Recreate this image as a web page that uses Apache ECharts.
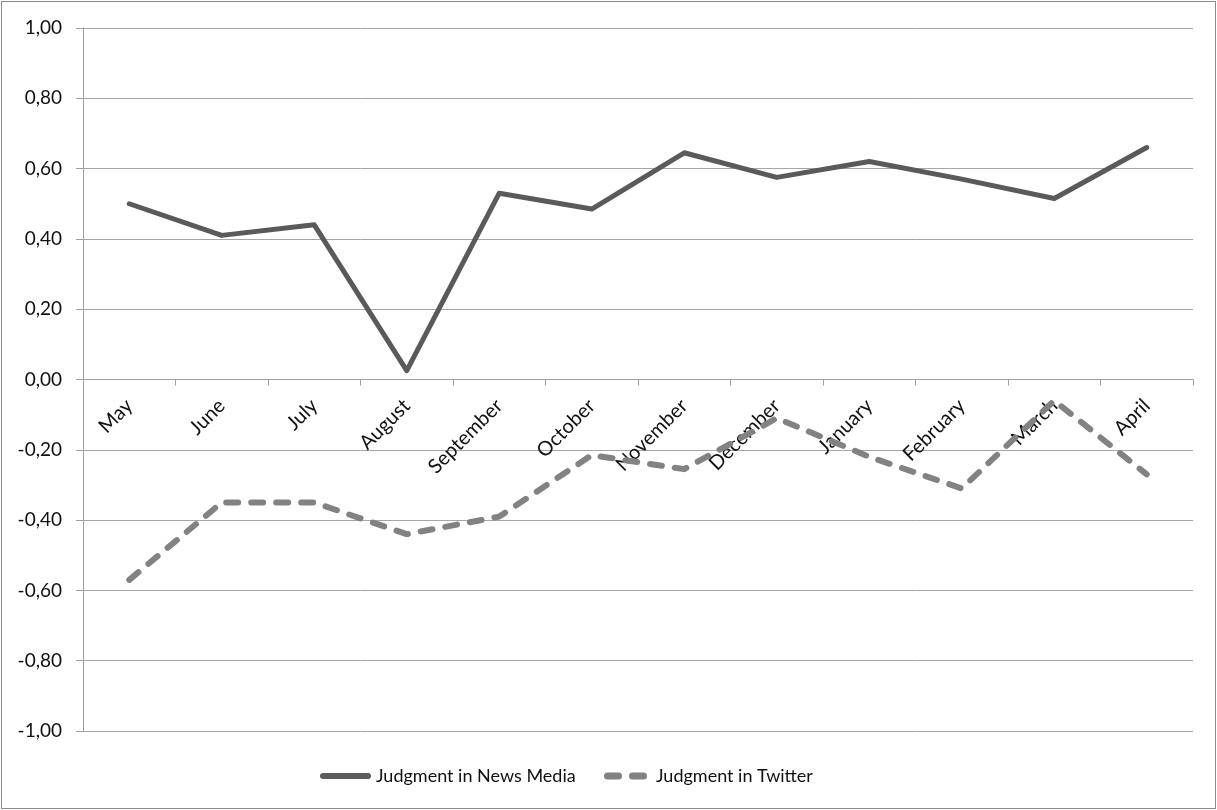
<!DOCTYPE html>
<html>
<head>
<meta charset="utf-8">
<script src="https://cdn.jsdelivr.net/npm/echarts@6/dist/echarts.min.js"></script>
<style>
  html, body { margin: 0; padding: 0; background: #fff; }
  #chart {
    width: 1213px;
    height: 806px;
    margin: 1px;
    border: 1px solid #8c8c8c;
  }
</style>
</head>
<body>
<div id="chart"></div>
<script>
const months = ['May', 'June', 'July', 'August', 'September', 'October',
  'November', 'December', 'January', 'February', 'March', 'April'];
const newsMedia = [0.50, 0.41, 0.44, 0.025, 0.53, 0.485, 0.645, 0.575, 0.62, 0.57, 0.515, 0.66];
const twitter = [-0.57, -0.35, -0.35, -0.44, -0.39, -0.215, -0.255, -0.11, -0.22, -0.31, -0.06, -0.27];
const yTicks = [-1, -0.8, -0.6, -0.4, -0.2, 0, 0.2, 0.4, 0.6, 0.8, 1];

const chart = echarts.init(document.getElementById('chart'));

const font = 'Lato, Open Sans, sans-serif';
const textColor = '#111';
const newsColor = '#5a5a5a';
const twitterColor = '#828282';

const gridTop = 26, gridBottom = 77;
const plotHeight = 806 - gridTop - gridBottom;
// x axis sits on the zero line, halfway up the plot
const zeroOffset = -plotHeight * (0 - yTicks[0]) / (yTicks[yTicks.length - 1] - yTicks[0]);

chart.setOption({
  animation: false,
  backgroundColor: '#fff',
  grid: { left: 81, right: 22, top: gridTop, bottom: gridBottom },
  legend: [
    {
      left: 313,
      top: 760,
      itemWidth: 51,
      itemHeight: 6,
      textStyle: { fontFamily: font, fontSize: 18, color: textColor },
      data: [{ name: 'Judgment in News Media', icon: 'path://M3,0H48A3,3 0 0 1 48,6H3A3,3 0 0 1 3,0Z', itemStyle: { color: newsColor } }]
    },
    {
      left: 597,
      top: 760,
      itemWidth: 43,
      itemHeight: 7,
      textStyle: { fontFamily: font, fontSize: 18, color: textColor, padding: [0, 0, 0, 4] },
      data: [{ name: 'Judgment in Twitter', icon: 'path://M3.5,0H14.5A3.5,3.5 0 0 1 14.5,7H3.5A3.5,3.5 0 0 1 3.5,0Z M28.5,0H39.5A3.5,3.5 0 0 1 39.5,7H28.5A3.5,3.5 0 0 1 28.5,0Z', itemStyle: { color: twitterColor } }]
    }
  ],
  xAxis: {
    type: 'category',
    data: months,
    boundaryGap: true,
    position: 'bottom',
    offset: zeroOffset,
    axisLine: { onZero: false, lineStyle: { color: '#a0a0a0', width: 1 } },
    axisTick: { show: true, length: 6, lineStyle: { color: '#a0a0a0' } },
    axisLabel: {
      rotate: 45,
      margin: 23,
      interval: 0,
      fontFamily: font,
      fontSize: 20,
      color: textColor
    },
    splitLine: { show: false }
  },
  yAxis: {
    type: 'value',
    min: yTicks[0],
    max: yTicks[yTicks.length - 1],
    interval: 0.2,
    axisLine: { show: true, lineStyle: { color: '#a0a0a0' } },
    axisTick: { show: true, length: 7, lineStyle: { color: '#a0a0a0' } },
    axisLabel: {
      margin: 21,
      fontFamily: font,
      fontSize: 19,
      color: textColor,
      formatter: v => v.toFixed(2).replace('.', ',')
    },
    splitLine: { lineStyle: { color: '#a6a6a6', width: 1 } }
  },
  series: [
    {
      name: 'Judgment in News Media',
      type: 'line',
      data: newsMedia,
      symbol: 'none',
      lineStyle: { color: newsColor, width: 5, cap: 'round', join: 'round' },
      itemStyle: { color: newsColor }
    },
    {
      name: 'Judgment in Twitter',
      type: 'line',
      data: twitter,
      symbol: 'none',
      lineStyle: { color: twitterColor, width: 6, type: [12, 13], cap: 'round', join: 'round' },
      itemStyle: { color: twitterColor }
    }
  ]
});
</script>
</body>
</html>
